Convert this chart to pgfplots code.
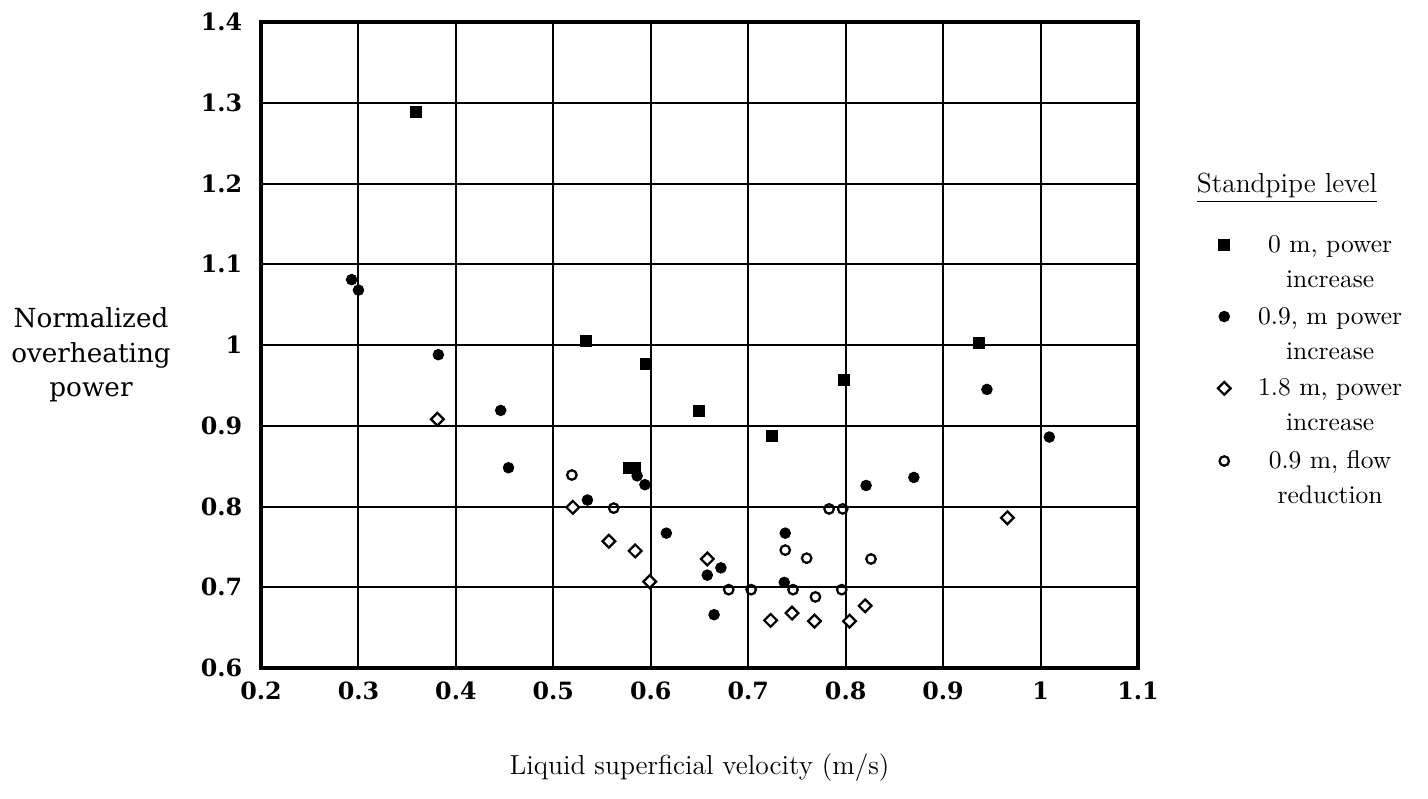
\documentclass[border=0pt]{standalone}
\usepackage{pgfplots}
\pgfplotsset{compat=1.18}
\usepackage{fontspec}
\newfontfamily\tickfont{DejaVu Serif}

% Standpipe level series: superficial velocity (m/s) vs normalized overheating power
\pgfplotstableread{
x y
0.359 1.289
0.534 1.005
0.595 0.976
0.650 0.918
0.578 0.848
0.584 0.848
0.724 0.887
0.798 0.957
0.937 1.003
}\levelzero
\pgfplotstableread{
x y
0.293 1.081
0.300 1.068
0.382 0.988
0.446 0.919
0.454 0.848
0.535 0.808
0.586 0.838
0.594 0.827
0.616 0.767
0.658 0.715
0.672 0.724
0.665 0.666
0.737 0.706
0.738 0.767
0.821 0.826
0.870 0.836
0.945 0.945
1.009 0.886
}\levelnine
\pgfplotstableread{
x y
0.381 0.908
0.520 0.799
0.557 0.757
0.584 0.745
0.599 0.707
0.658 0.735
0.723 0.659
0.745 0.668
0.768 0.658
0.804 0.658
0.820 0.677
0.966 0.786
}\leveleighteen
\pgfplotstableread{
x y
0.519 0.839
0.562 0.798
0.680 0.697
0.703 0.697
0.738 0.746
0.746 0.697
0.760 0.736
0.769 0.688
0.783 0.797
0.797 0.797
0.796 0.697
0.826 0.735
}\flowreduction

% two-line legend text, centred in a fixed column, baseline on the first line
\newcommand\entry[2]{\parbox[t]{62pt}{\centering #1\\#2}}

\begin{document}
\begin{tikzpicture}[x=1pt,y=1pt]
\path[use as bounding box] (-104.4,-52) rectangle (466.8,267.2);
\begin{axis}[
  at={(0,0)}, anchor=south west,
  scale only axis, width=350.8pt, height=258.4pt,
  xmin=0.2, xmax=1.1, ymin=0.6, ymax=1.4,
  xtick={0.2,0.3,0.4,0.5,0.6,0.7,0.8,0.9,1,1.1},
  ytick={0.6,0.7,0.8,0.9,1,1.1,1.2,1.3,1.4},
  grid=major,
  major grid style={black, line width=0.8pt},
  axis line style={black, line width=1.4pt},
  major tick length=0pt,
  /pgf/number format/assume math mode=true,
  ticklabel style={font=\tickfont\bfseries\fontsize{9.5}{11}\selectfont},
  xticklabel style={yshift=-2pt},
  yticklabel style={xshift=-4pt},
  legend style={at={(rel axis cs:1.082,0.686)}, anchor=north west,
    draw=none, fill=none, row sep=16.4pt, column sep=6.8pt,
    nodes={font=\fontsize{10.2}{14}\selectfont, anchor=base west}},
  legend image code/.code={\draw[#1] plot coordinates {(0pt,3pt)};},
]
\addplot[only marks, mark=square*, mark size=2.2pt, black]
  table {\levelzero};
\addlegendentry{\entry{0 m, power}{increase}}
\addplot[only marks, mark=*, mark size=2.1pt, black]
  table {\levelnine};
\addlegendentry{\entry{0.9, m power}{increase}}
\addplot[only marks, mark=square*, mark size=1.8pt, black,
  mark options={rotate=45, fill=white, line width=0.9pt}]
  table {\leveleighteen};
\addlegendentry{\entry{1.8 m, power}{increase}}
\addplot[only marks, mark=o, mark size=1.9pt, black,
  mark options={fill=white, line width=0.9pt}]
  table {\flowreduction};
\addlegendentry{\entry{0.9 m, flow}{reduction}}
\end{axis}
\node[font=\fontsize{11}{13}\selectfont] at (410.4,192) {\underline{Standpipe level}};
\node[align=center, font=\tickfont\fontsize{10.5}{13.7}\selectfont] at (-68,125.2)
  {Normalized\\overheating\\power};
\node[font=\fontsize{11}{13}\selectfont] at (175.4,-40) {Liquid superficial velocity (m/s)};
\end{tikzpicture}
\end{document}
